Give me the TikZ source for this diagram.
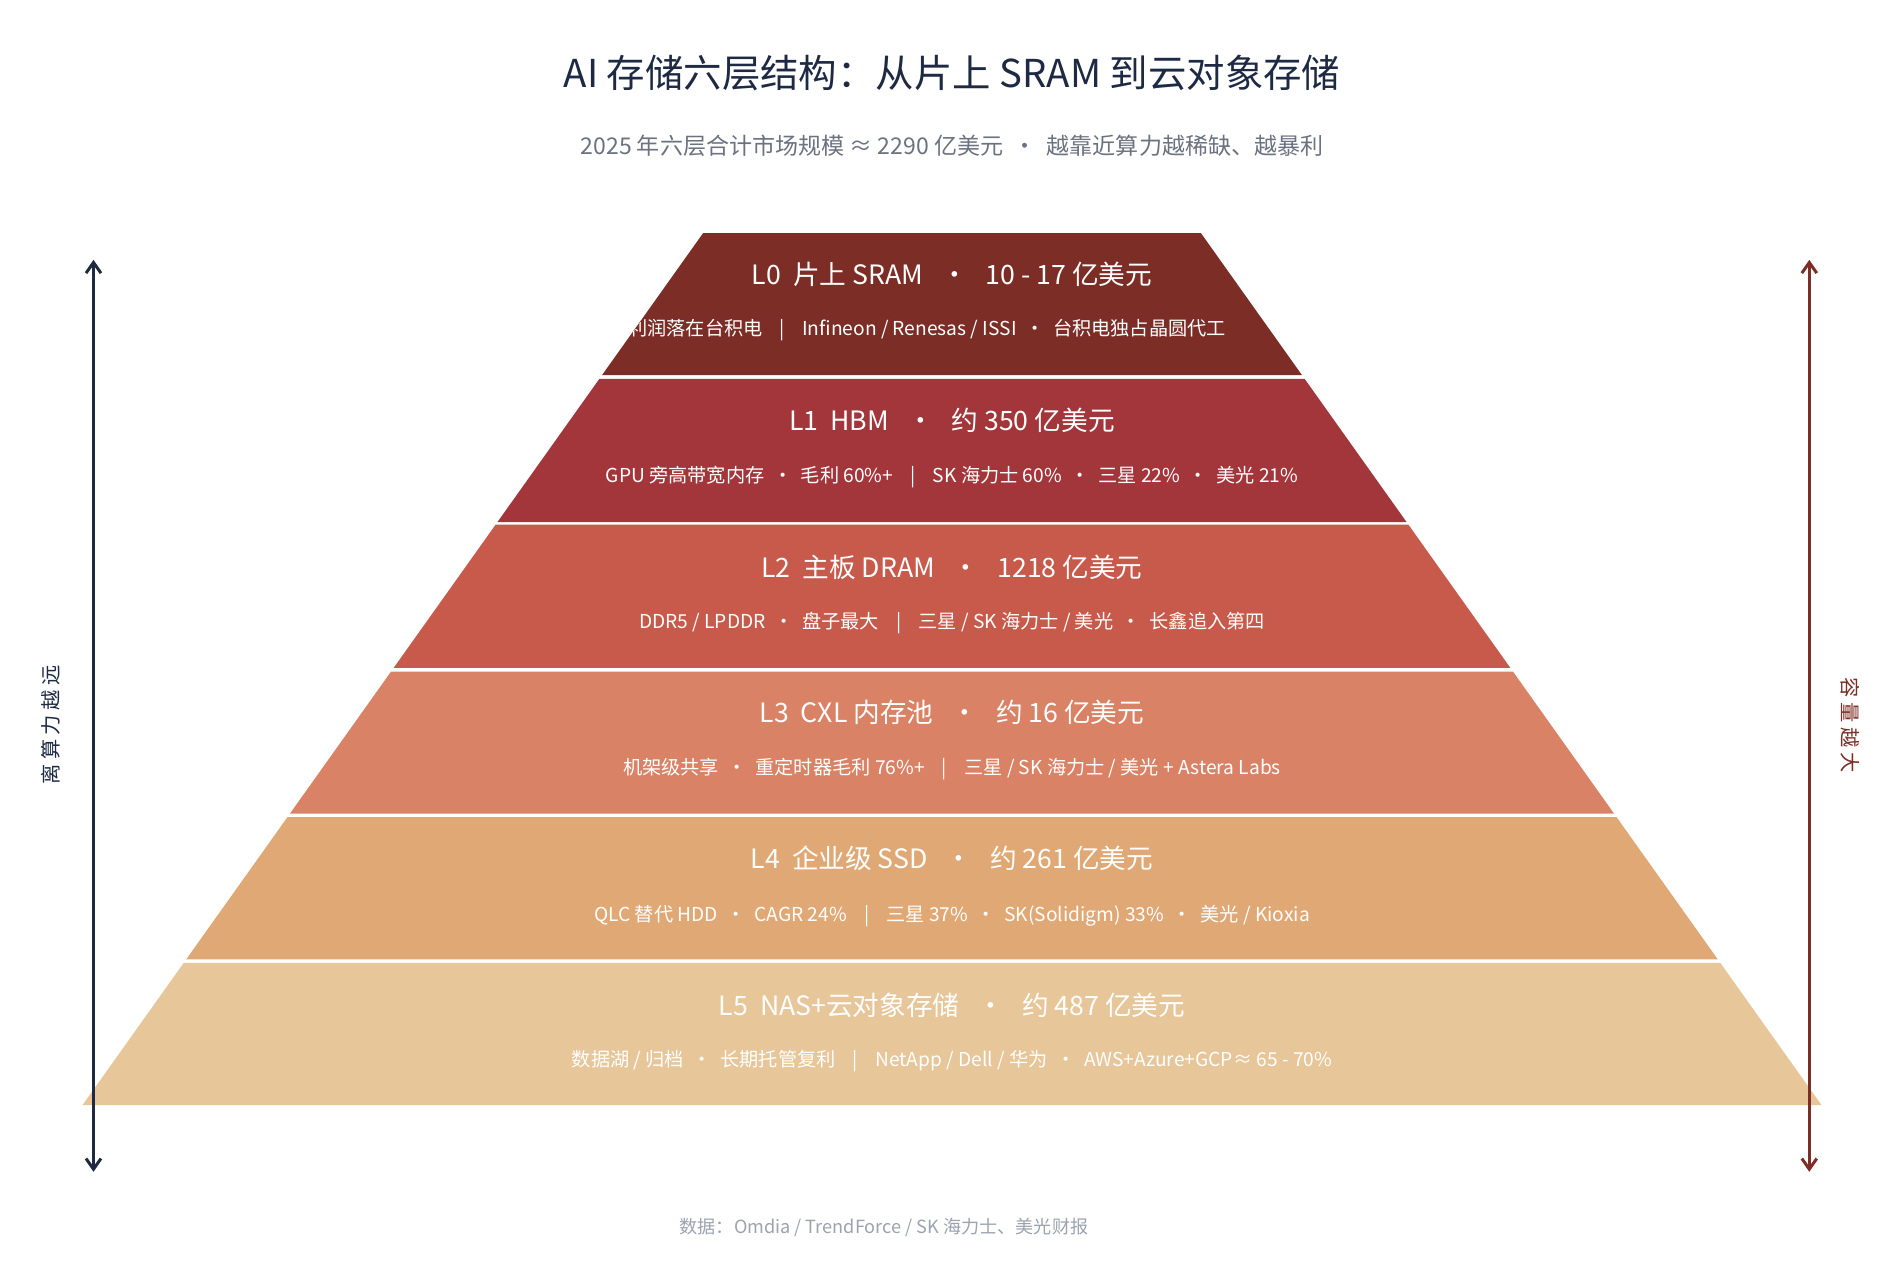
\documentclass[tikz,border=0pt]{standalone}
\usepackage{fontspec}
\setmainfont{Noto Sans CJK SC}
\usetikzlibrary{arrows.meta}
\definecolor{cA}{HTML}{7B2D26}\definecolor{cB}{HTML}{A3363B}\definecolor{cC}{HTML}{C85A4C}
\definecolor{cD}{HTML}{D98265}\definecolor{cE}{HTML}{E0A875}\definecolor{cF}{HTML}{E7C699}
\definecolor{navy}{HTML}{1E2A44}\definecolor{gr}{HTML}{6B7280}\definecolor{lg}{HTML}{9CA3AF}
\begin{document}
\begin{tikzpicture}[x=0.02cm,y=-0.02cm,
  ttl/.style={text=white,font=\fontsize{12.5}{14}\selectfont},
  sub/.style={text=white,font=\fontsize{9}{11}\selectfont},
  ax/.style={line width=1.4pt,{Straight Barb[length=5pt,width=7pt]}-{Straight Barb[length=5pt,width=7pt]}}]
\useasboundingbox (0,0) rectangle (1568,1040);
\fill[white] (0,0) rectangle (1568,1040);
\node[text=navy,font=\fontsize{18}{20}\selectfont] (title) at (784,60) {AI 存储六层结构：从片上 SRAM 到云对象存储};
\node[text=gr,font=\fontsize{10.8}{12}\selectfont] (subtitle) at (784,120) {2025 年六层合计市场规模 ≈ 2290 亿美元 \ · \ 越靠近算力越稀缺、越暴利};
% layers: top y, bottom y, color, title, sub
\foreach \t/\b/\c/\n in {192/309/cA/0,312/430/cB/1,432/550/cC/2,553/670/cD/3,673/790/cE/4,793/910/cF/5}{
  \pgfmathsetmacro\wt{205+(\t-192)*0.7117}
  \pgfmathsetmacro\wb{205+(\b-192)*0.7117}
  \fill[\c] (784-\wt,\t) -- (784+\wt,\t) -- (784+\wb,\b) -- (784-\wb,\b) -- cycle;
}
\node[ttl] (t0) at (784,226) {L0\ \ 片上 SRAM \ \ · \ \ 10 - 17 亿美元};
\begin{scope}
\clip (579,192) -- (989,192) -- (989+83.3,309) -- (579-83.3,309) -- cycle;
\node[sub] (s0) at (700,272) {AI 加速器芯片 \ · \ 利润落在台积电 \ \ \ | \ \ \ Infineon / Renesas / ISSI \ · \ 台积电独占晶圆代工};
\end{scope}
\node[ttl] (t1) at (784,346) {L1\ \ HBM \ \ · \ \ 约 350 亿美元};
\node[sub] (s1) at (784,393) {GPU 旁高带宽内存 \ · \ 毛利 60\%+ \ \ \ | \ \ \ SK 海力士 60\% \ · \ 三星 22\% \ · \ 美光 21\%};
\node[ttl] (t2) at (784,467) {L2\ \ 主板 DRAM \ \ · \ \ 1218 亿美元};
\node[sub] (s2) at (784,513) {DDR5 / LPDDR \ · \ 盘子最大 \ \ \ | \ \ \ 三星 / SK 海力士 / 美光 \ · \ 长鑫追入第四};
\node[ttl] (t3) at (784,587) {L3\ \ CXL 内存池 \ \ · \ \ 约 16 亿美元};
\node[sub] (s3) at (784,633) {机架级共享 \ · \ 重定时器毛利 76\%+ \ \ \ | \ \ \ 三星 / SK 海力士 / 美光 + Astera Labs};
\node[ttl] (t4) at (784,707) {L4\ \ 企业级 SSD \ \ · \ \ 约 261 亿美元};
\node[sub] (s4) at (784,754) {QLC 替代 HDD \ · \ CAGR 24\% \ \ \ | \ \ \ 三星 37\% \ · \ SK(Solidigm) 33\% \ · \ 美光 / Kioxia};
\node[ttl] (t5) at (784,828) {L5\ \ NAS+云对象存储 \ \ · \ \ 约 487 亿美元};
\node[sub] (s5) at (784,874) {数据湖 / 归档 \ · \ 长期托管复利 \ \ \ | \ \ \ NetApp / Dell / 华为 \ · \ AWS+Azure+GCP≈ 65 - 70\%};
\coordinate (la) at (77,214); \coordinate (lb) at (77,965);
\coordinate (ra) at (1490,214); \coordinate (rb) at (1490,965);
\draw[ax,navy] (la) -- (lb);
\draw[ax,cA] (ra) -- (rb);
\node[text=navy,rotate=90,font=\fontsize{9.5}{11}\selectfont] (ll) at (42,597) {离\ 算\ 力\ 越\ 远};
\node[text=cA,rotate=-90,font=\fontsize{9.5}{11}\selectfont] (rl) at (1524,597) {容\ 量\ 越\ 大};
\node[text=lg,font=\fontsize{8.5}{10}\selectfont] (src) at (728,1011) {数据：Omdia / TrendForce / SK 海力士、美光财报};
\end{tikzpicture}
\end{document}
